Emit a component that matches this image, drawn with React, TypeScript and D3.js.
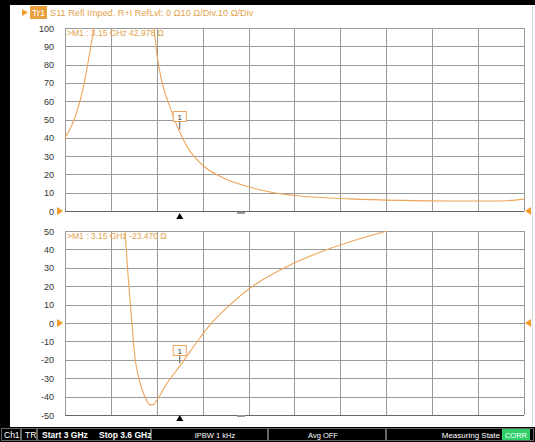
import React from "react";
import * as d3 from "d3";

const W = 535;
const H = 442;

// Resistance trace (top), frequency in GHz, value in ohms
const freqR = [3.0, 3.013, 3.026, 3.035, 3.038, 3.05, 3.065, 3.08, 3.095, 3.108, 3.1163, 3.12, 3.127, 3.137, 3.15, 3.163, 3.18, 3.207, 3.242, 3.268, 3.307, 3.373, 3.438, 3.503, 3.569, 3.6];
const valR = [40, 51, 71.6, 93, 100, 125, 145, 150, 140, 118, 100, 86, 70, 57, 43, 33, 25, 18, 13, 10.4, 8.2, 6.6, 5.8, 5.5, 5.5, 6.5];

// Reactance trace (bottom)
const freqX = [3.0, 3.04, 3.07, 3.0784, 3.0824, 3.0876, 3.0915, 3.096, 3.1007, 3.106, 3.111, 3.115, 3.12, 3.133, 3.15, 3.1765, 3.1895, 3.216, 3.242, 3.294, 3.35, 3.421, 3.5, 3.6];
const valX = [80, 110, 90, 50, 26, -1, -19, -29, -36, -41.5, -44.5, -44.5, -42, -33, -23.47, -8, -1, 10, 19, 31.5, 41, 50, 58, 66];

const ticksTop = [100, 90, 80, 70, 60, 50, 40, 30, 20, 10, 0];
const ticksBot = [50, 40, 30, 20, 10, 0, -10, -20, -30, -40, -50];

const markerFreq = 3.15;
const markerR = 42.978;
const markerX = -23.47;

const titleText = "S11 Refl Imped. R+I RefLvl: 0 Ω10 Ω/Div.10 Ω/Div";
const readTop = ">M1 : 3.15 GHz 42.978 Ω";
const readBot = ">M1 : 3.15 GHz -23.470 Ω";

const ORANGE = "#eda55a";
const TEXTOR = "#e3a24c";
const GRID = "#9a9a9a";
const FONT = "'Liberation Sans', Arial, sans-serif";

export default function App() {
  const x = d3.scaleLinear().domain([3.0, 3.6]).range([65, 524]);
  const yT = d3.scaleLinear().domain([0, 100]).range([211, 28]);
  const yB = d3.scaleLinear().domain([-50, 50]).range([415, 231]);

  const lineT = d3
    .line<number>()
    .x((_, i) => x(freqR[i]))
    .y((d) => yT(d))
    .curve(d3.curveMonotoneX);
  const lineB = d3
    .line<number>()
    .x((_, i) => x(freqX[i]))
    .y((d) => yB(d))
    .curve(d3.curveMonotoneX);

  const vTicks = d3.range(0, 11).map((i) => 3.0 + i * 0.06);

  const panel = (
    y: d3.ScaleLinear<number, number>,
    ticks: number[],
    key: string
  ) => (
    <g key={key}>
      <rect x={65} y={y.range()[1]} width={459} height={y.range()[0] - y.range()[1]} fill="#fff" />
      {ticks.map((t) => (
        <line key={"h" + t} x1={65} x2={524} y1={Math.round(y(t)) + 0.5} y2={Math.round(y(t)) + 0.5} stroke={GRID} strokeWidth={1} />
      ))}
      {vTicks.map((f) => (
        <line key={"v" + f} x1={Math.round(x(f)) + 0.5} x2={Math.round(x(f)) + 0.5} y1={y.range()[1]} y2={y.range()[0]} stroke={GRID} strokeWidth={1} />
      ))}
      <line x1={65} x2={524} y1={Math.round(y.range()[0]) + 0.5} y2={Math.round(y.range()[0]) + 0.5} stroke="#666" strokeWidth={1.2} />
      {ticks.map((t) => (
        <text key={"l" + t} x={54} y={y(t) + 3.5} textAnchor="end" fontSize={9} fill="#333" fontFamily={FONT}>
          {t}
        </text>
      ))}
    </g>
  );

  const refTri = (cy: number, key: string) => (
    <g key={key}>
      <path d={`M57,${cy - 4} L63,${cy} L57,${cy + 4} Z`} fill="#f39a2a" />
      <path d={`M531,${cy - 4} L525,${cy} L531,${cy + 4} Z`} fill="#f39a2a" />
    </g>
  );

  const mx = x(markerFreq);

  return (
    <svg width={W} height={H} style={{ position: "absolute", left: 0, top: 0 }}>
      <defs>
        <clipPath id="clipT">
          <rect x={65} y={28} width={459} height={183} />
        </clipPath>
        <clipPath id="clipB">
          <rect x={65} y={231} width={459} height={184} />
        </clipPath>
      </defs>
      <rect x={0} y={0} width={W} height={H} fill="#fff" />
      <rect x={0} y={0} width={W} height={5} fill="#000" />
      <rect x={0} y={0} width={10} height={H} fill="#000" />
      <line x1={532.5} x2={532.5} y1={5} y2={428} stroke="#ddd" />

      {/* title */}
      <path d="M22,9 L28,12.5 L22,16 Z" fill="#f39a2a" />
      <rect x={30} y={6} width={17} height={13} fill="#e8a040" />
      <text x={38.5} y={16} textAnchor="middle" fontSize={9} fill="#fff" fontFamily={FONT}>Tr1</text>
      <text x={50} y={16} fontSize={9.2} fill={TEXTOR} fontFamily={FONT}>{titleText}</text>

      {panel(yT, ticksTop, "top")}
      {panel(yB, ticksBot, "bot")}

      {refTri(yT(0), "rt")}
      {refTri(yB(0), "rb")}

      <path d={lineT(valR) || ""} fill="none" stroke={ORANGE} strokeWidth={1.1} clipPath="url(#clipT)" />
      <path d={lineB(valX) || ""} fill="none" stroke={ORANGE} strokeWidth={1.1} clipPath="url(#clipB)" />

      <text x={67} y={36} fontSize={8.5} fill={TEXTOR} fontFamily={FONT}>{readTop}</text>
      <text x={67} y={239} fontSize={8.5} fill={TEXTOR} fontFamily={FONT}>{readBot}</text>

      {/* marker 1 top */}
      <rect x={mx - 6.5} y={111.5} width={13} height={10} fill="#fff" stroke={ORANGE} strokeWidth={1} />
      <text x={mx} y={119.5} textAnchor="middle" fontSize={8} fill="#333" fontFamily={FONT}>1</text>
      <line x1={mx} x2={mx} y1={121.5} y2={yT(markerR) - 3} stroke="#555" strokeWidth={1} />
      {/* marker 1 bottom */}
      <rect x={mx - 6.5} y={345.5} width={13} height={10} fill="#fff" stroke={ORANGE} strokeWidth={1} />
      <text x={mx} y={353.5} textAnchor="middle" fontSize={8} fill="#333" fontFamily={FONT}>1</text>
      <line x1={mx} x2={mx} y1={355.5} y2={yB(markerX) - 3} stroke="#555" strokeWidth={1} />

      {/* stimulus markers */}
      <path d={`M${mx - 3.5},219 L${mx},213 L${mx + 3.5},219 Z`} fill="#000" />
      <path d={`M${mx - 3.5},421 L${mx},415 L${mx + 3.5},421 Z`} fill="#000" />
      <rect x={237} y={212} width={8} height={2} fill="#999" />
      <rect x={237} y={415} width={8} height={2} fill="#999" />

      {/* status bar */}
      <rect x={0} y={427} width={W} height={15} fill="#000" />
      <g fontFamily={FONT} fontSize={8.5} fill="#fff">
        <rect x={1.5} y={428.5} width={19} height={12} fill="none" stroke="#666" />
        <text x={4} y={438}>Ch1</text>
        <rect x={21.5} y={428.5} width={15} height={12} fill="none" stroke="#666" />
        <text x={25} y={438}>TR</text>
        <rect x={37.5} y={428.5} width={113} height={12} fill="none" stroke="#666" />
        <text x={42} y={438} fontWeight="bold">Start 3 GHz</text>
        <text x={99} y={438} fontWeight="bold">Stop 3.6 GHz</text>
        <rect x={151.5} y={428.5} width={116} height={12} fill="none" stroke="#666" />
        <text x={215} y={438} textAnchor="middle" fontSize={7.5}>IPBW 1 kHz</text>
        <rect x={268.5} y={428.5} width={117} height={12} fill="none" stroke="#666" />
        <text x={323} y={438} textAnchor="middle" fontSize={7.5}>Avg OFF</text>
        <rect x={386.5} y={428.5} width={147} height={12} fill="none" stroke="#666" />
        <text x={500} y={438} textAnchor="end" fontSize={8}>Measuring State</text>
        <rect x={502} y={429} width={28} height={11} fill="#2fd06a" />
        <text x={516} y={438} textAnchor="middle" fontSize={7.5}>CORR</text>
      </g>
    </svg>
  );
}
